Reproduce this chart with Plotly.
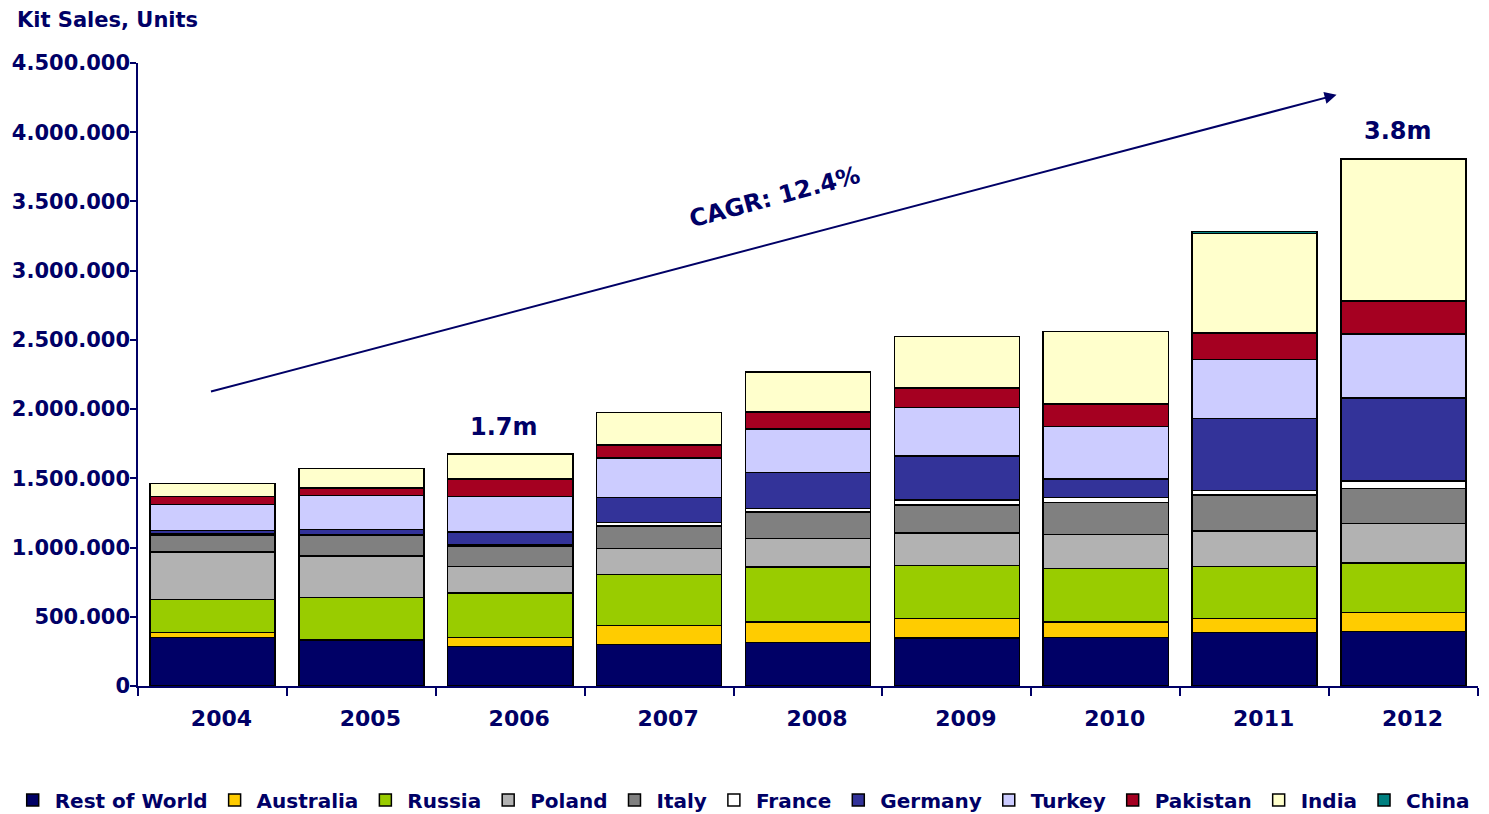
import plotly.graph_objects as go

years = ["2004", "2005", "2006", "2007", "2008", "2009", "2010", "2011", "2012"]

# kit sales per market, units
rest_of_world = [352000, 330000, 284000, 299000, 313000, 345000, 352000, 385000, 395000]
australia = [33000, 5000, 68000, 137000, 149000, 141000, 110000, 101000, 135000]
russia = [241000, 306000, 318000, 368000, 398000, 383000, 386000, 376000, 357000]
poland = [342000, 298000, 192000, 188000, 204000, 236000, 245000, 256000, 286000]
italy = [123000, 147000, 144000, 164000, 193000, 203000, 232000, 260000, 253000]
france = [8000, 10000, 12000, 25000, 24000, 35000, 35000, 35000, 55000]
germany = [23000, 36000, 96000, 181000, 260000, 318000, 135000, 518000, 600000]
turkey = [188000, 243000, 255000, 284000, 316000, 351000, 378000, 426000, 460000]
pakistan = [58000, 56000, 125000, 94000, 123000, 140000, 164000, 191000, 239000]
india = [94000, 139000, 181000, 234000, 287000, 373000, 525000, 719000, 1028000]
china = [0, 0, 0, 0, 0, 0, 0, 15000, 0]

series = [
    ("Rest of World", rest_of_world, "#000066"),
    ("Australia", australia, "#FFCC00"),
    ("Russia", russia, "#99CC00"),
    ("Poland", poland, "#B2B2B2"),
    ("Italy", italy, "#808080"),
    ("France", france, "#FFFFFF"),
    ("Germany", germany, "#333399"),
    ("Turkey", turkey, "#CCCCFF"),
    ("Pakistan", pakistan, "#A50021"),
    ("India", india, "#FFFFCC"),
    ("China", china, "#008080"),
]

navy = "#000066"
font = "DejaVu Sans"
pos = list(range(len(years)))

fig = go.Figure()
for name, vals, col in series:
    fig.add_trace(go.Bar(
        x=pos, y=vals, name=name,
        marker=dict(color=col, line=dict(color="black", width=1.5)),
    ))

totals = [sum(v[i] for _, v, _ in series) for i in range(len(years))]

# page body has an 8px margin, so the figure is 8px smaller than the window
fig.update_layout(
    width=1481, height=806,
    barmode="stack", bargap=0.16,
    plot_bgcolor="white", paper_bgcolor="white",
    margin=dict(l=130, r=11, t=55, b=128, autoexpand=False),
    separators=",.",
    font=dict(family=font, color=navy, size=20, weight="bold"),
    legend=dict(orientation="h", xref="paper", x=-0.095, xanchor="left",
                y=-0.183, yanchor="middle", traceorder="normal", itemwidth=34,
                font=dict(size=20, color=navy, family=font, weight="bold")),
    xaxis=dict(range=[-0.5, len(years) - 0.5], tickvals=pos, ticktext=years,
               showline=True, linecolor=navy, linewidth=1.5, ticks="",
               showgrid=False, zeroline=False, automargin=False,
               ticklabelstandoff=12, ticklabelshift=9,
               minor=dict(tick0=-0.5, dtick=1, ticks="outside", ticklen=8,
                          tickcolor=navy, tickwidth=1.5, showgrid=False),
               tickfont=dict(size=22, color=navy, family=font, weight="bold")),
    yaxis=dict(range=[0, 4500000], dtick=500000, tickformat=",d", showgrid=False,
               showline=True, linecolor=navy, linewidth=1.5, ticks="outside",
               ticklen=6, tickcolor=navy, tickwidth=1.5, zeroline=False,
               automargin=False, ticklabelstandoff=-4,
               tickfont=dict(size=21, color=navy, family=font, weight="bold")),
)

fig.add_annotation(text="Kit Sales, Units", xref="paper", yref="paper",
                   x=-0.092, y=1.069, xanchor="left", yanchor="middle", showarrow=False,
                   font=dict(size=21, color=navy, family=font, weight="bold"))

# total labels
fig.add_annotation(text="1.7m", x=pos[2], y=totals[2], yshift=27, showarrow=False,
                   xshift=-6, font=dict(size=24, color=navy, family=font, weight="bold"))
fig.add_annotation(text="3.8m", x=pos[8], y=totals[8], yshift=28, showarrow=False,
                   xshift=-6, font=dict(size=24, color=navy, family=font, weight="bold"))

# CAGR arrow
fig.add_annotation(x=7.55, y=4270000, ax=-0.02, ay=2124000, xref="x", yref="y",
                   axref="x", ayref="y", text="", showarrow=True, arrowhead=2,
                   arrowsize=1.2, arrowwidth=2, arrowcolor=navy)
fig.add_annotation(text="CAGR: 12.4%", x=3.78, y=3530000, xref="x", yref="y",
                   textangle=-15, showarrow=False,
                   font=dict(size=24, color=navy, family=font, weight="bold"))

fig.write_html("out.html")
